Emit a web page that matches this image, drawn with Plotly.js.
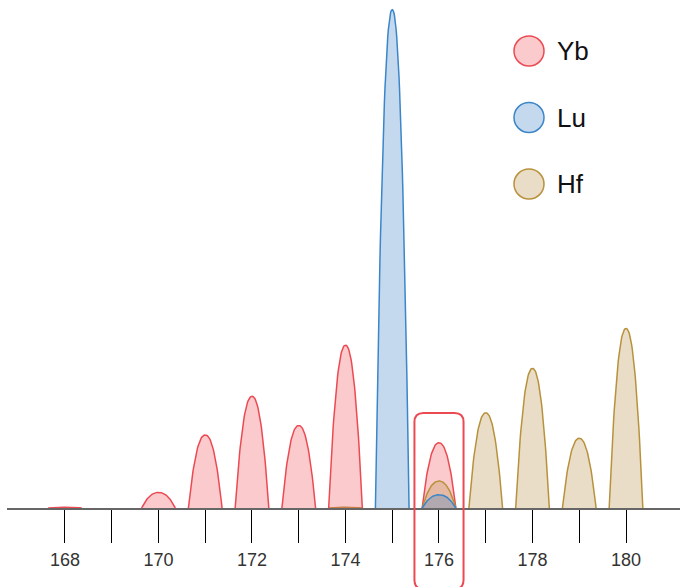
<!DOCTYPE html>
<html>
<head>
<meta charset="utf-8">
<script src="https://cdn.plot.ly/plotly-3.0.1.min.js"></script>
<style>html,body{margin:0;padding:0;background:#fff;}#chart{width:680px;height:587px;}</style>
</head>
<body>
<div id="chart"></div>
<script>
// Isotopic abundances (%)
const ybMass = [168, 170, 171, 172, 173, 174, 176];
const ybAbund = [0.13, 3.04, 14.28, 21.83, 16.13, 31.83, 12.76];
const luMass = [175, 176];
const luAbund = [97.41, 2.59];
const hfMass = [174, 176, 177, 178, 179, 180];
const hfAbund = [0.16, 5.26, 18.60, 27.28, 13.62, 35.08];
const tickVals = [168, 169, 170, 171, 172, 173, 174, 175, 176, 177, 178, 179, 180];
const tickLabels = ["168", "", "170", "", "172", "", "174", "", "176", "", "178", "", "180"];
const elements = ["Yb", "Lu", "Hf"];

const styles = {
  Yb: {line: "#ec4a52", fill: "rgba(240,80,90,0.30)"},
  Lu: {line: "#3b86c9", fill: "rgba(60,130,200,0.30)"},
  Hf: {line: "#b8913c", fill: "rgba(190,150,80,0.32)"}
};

const XR = [166.76, 181.155];
const YR = [0, 99.3];
const HALF = 0.36, P = 2.2, N = 60;

function peak(m, a, el) {
  const xs = [], ys = [];
  for (let i = 0; i <= N; i++) {
    const u = -1 + 2 * i / N;
    xs.push(m + u * HALF);
    ys.push(a * (1 - Math.pow(Math.abs(u), P)));
  }
  return {
    x: xs, y: ys, type: "scatter", mode: "lines", fill: "toself",
    fillcolor: styles[el].fill, line: {color: styles[el].line, width: 1.5},
    hoverinfo: "skip", showlegend: false
  };
}

const traces = [];
// draw the tiny Hf-174 first so it stays hidden below Yb-174
hfMass.forEach((m, i) => { if (m === 174) traces.push(peak(m, hfAbund[i], "Hf")); });
ybMass.forEach((m, i) => traces.push(peak(m, ybAbund[i], "Yb")));
hfMass.forEach((m, i) => { if (m !== 174) traces.push(peak(m, hfAbund[i], "Hf")); });
luMass.forEach((m, i) => traces.push(peak(m, luAbund[i], "Lu")));

// plot area geometry (pixels) for paper-coordinate decorations
const W = 680, H = 587, ML = 7, MR = 0, MT = 0, MB = 79;
const PW = W - ML - MR, PH = H - MT - MB;
const px2paperX = px => (px - ML) / PW;
const py2paperY = py => (H - MB - py) / PH;
const data2px = x => ML + (x - XR[0]) / (XR[1] - XR[0]) * PW;

// highlight box around mass 176
const bx0 = px2paperX(data2px(176 - 0.525)), bx1 = px2paperX(data2px(176 + 0.525));
const by0 = py2paperY(589), by1 = py2paperY(413);
const rx = 9 / PW, ry = 9 / PH;
const boxPath = `M ${bx0 + rx},${by1} L ${bx1 - rx},${by1} Q ${bx1},${by1} ${bx1},${by1 - ry} ` +
  `L ${bx1},${by0 + ry} Q ${bx1},${by0} ${bx1 - rx},${by0} L ${bx0 + rx},${by0} ` +
  `Q ${bx0},${by0} ${bx0},${by0 + ry} L ${bx0},${by1 - ry} Q ${bx0},${by1} ${bx0 + rx},${by1} Z`;

const shapes = [{
  type: "path", xref: "paper", yref: "paper", path: boxPath,
  line: {color: "#ec4a52", width: 2}, fillcolor: "rgba(0,0,0,0)", layer: "above"
}];
const annotations = [];
const legendY = [51, 117.5, 184];
elements.forEach((el, i) => {
  const cx = 529, cy = legendY[i], r = 15;
  shapes.push({
    type: "circle", xref: "paper", yref: "paper",
    x0: px2paperX(cx - r), x1: px2paperX(cx + r),
    y0: py2paperY(cy + r), y1: py2paperY(cy - r),
    line: {color: styles[el].line, width: 1.5}, fillcolor: styles[el].fill
  });
  annotations.push({
    xref: "paper", yref: "paper", x: px2paperX(555), y: py2paperY(cy),
    xanchor: "left", yanchor: "middle", text: el, showarrow: false,
    font: {family: "Liberation Sans, Arial, sans-serif", size: 26, color: "#111"}
  });
});

const layout = {
  width: W, height: H,
  margin: {l: ML, r: MR, t: MT, b: MB, pad: 0},
  paper_bgcolor: "#fff", plot_bgcolor: "#fff",
  showlegend: false,
  xaxis: {
    range: XR, fixedrange: true, showgrid: false, zeroline: false,
    showline: true, linecolor: "#666", linewidth: 1.5,
    ticks: "outside", ticklen: 33, tickwidth: 1, tickcolor: "#000",
    tickvals: tickVals, ticktext: tickLabels, ticklabelstandoff: 2,
    tickfont: {family: "Liberation Sans, Arial, sans-serif", size: 18, color: "#333"}
  },
  yaxis: {range: YR, visible: false, fixedrange: true},
  shapes: shapes, annotations: annotations
};

Plotly.newPlot("chart", traces, layout, {displayModeBar: false, staticPlot: true});
</script>
</body>
</html>
